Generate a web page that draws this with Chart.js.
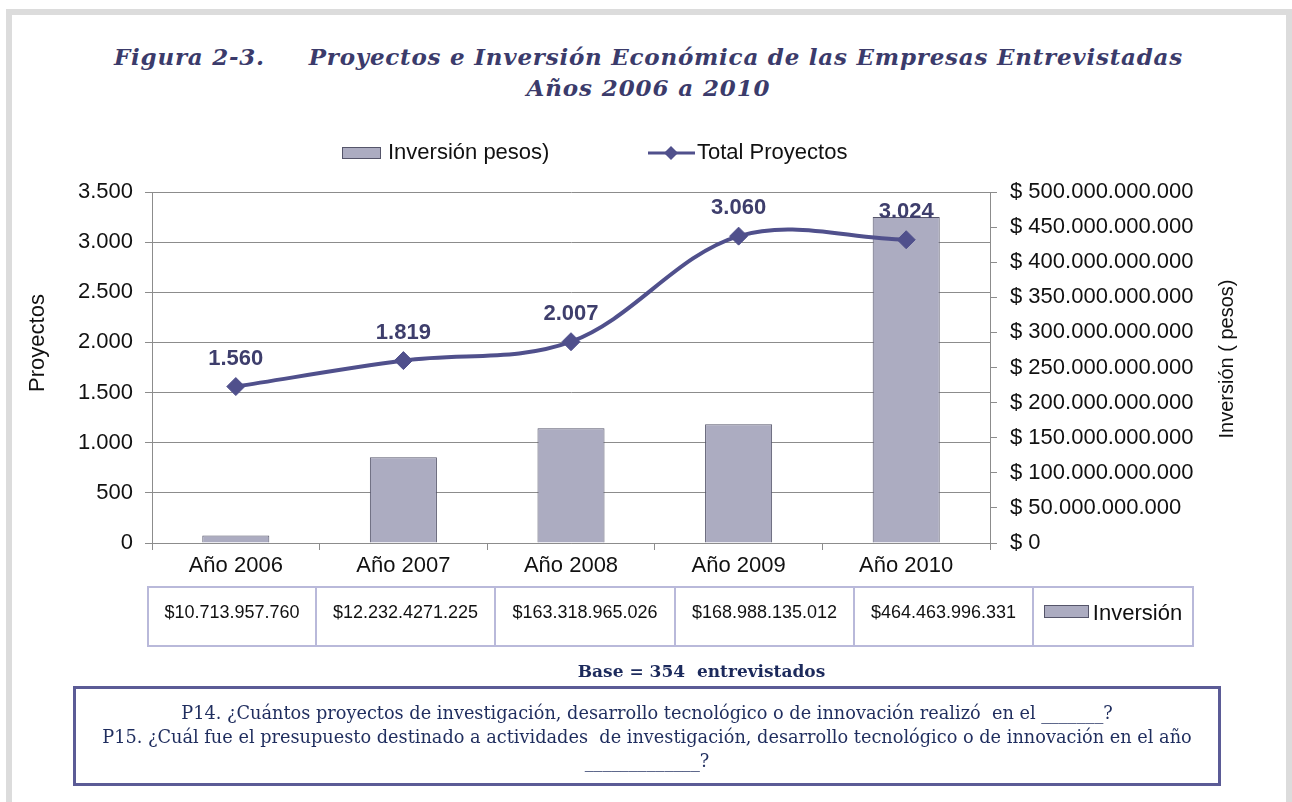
<!DOCTYPE html>
<html><head><meta charset="utf-8">
<script src="https://cdn.jsdelivr.net/npm/chart.js@4.4.1/dist/chart.umd.min.js"></script>
<style>
html,body{margin:0;padding:0;width:1292px;height:802px;overflow:hidden;background:#fff;}
#frame{position:absolute;left:6px;top:9px;width:1274px;height:900px;border:6px solid #dcdcdc;border-bottom:none;}
#wrap{position:absolute;left:0;top:0;width:1292px;height:802px;}
.title{position:absolute;left:0;width:1297px;text-align:center;font-family:"DejaVu Serif";font-weight:bold;font-style:italic;color:#3b3b6b;white-space:pre;font-size:23px;line-height:30px;}
.title span, .bl span{display:inline-block;}
.cell{position:absolute;top:586px;height:57px;border:2px solid #b9b9da;box-sizing:content-box;font-family:"Liberation Sans",Arial,sans-serif;font-size:18px;color:#111;text-align:center;line-height:22px;}
.cell span{position:absolute;left:0;right:0;top:13px;}
#base{position:absolute;left:0;width:1403px;top:659px;text-align:center;font-family:"DejaVu Serif";font-weight:bold;font-size:17px;color:#1c2a5c;line-height:24px;white-space:pre;}
#box{position:absolute;left:73px;top:686px;width:1142px;height:94px;border:3px solid #5b5b96;}
.bl{position:absolute;left:0;right:0;text-align:center;font-family:"DejaVu Serif";font-size:17.5px;color:#1f2d5e;white-space:pre;line-height:24px;}
</style></head>
<body>
<div id="frame"></div>
<div class="title" style="top:42px;"><span id="t1">Figura 2-3.     Proyectos e Inversión Económica de las Empresas Entrevistadas</span></div>
<div class="title" style="top:73px;"><span id="t2">Años 2006 a 2010</span></div>
<div id="wrap"><canvas id="c" width="1292" height="802"></canvas></div>
<div id="table"></div>
<div id="base">Base = 354  entrevistados</div>
<div id="box">
<div class="bl" style="top:12px;"><span id="b1">P14. ¿Cuántos proyectos de investigación, desarrollo tecnológico o de innovación realizó  en el _______?</span></div>
<div class="bl" style="top:36px;"><span id="b2">P15. ¿Cuál fue el presupuesto destinado a actividades  de investigación, desarrollo tecnológico o de innovación en el año</span></div>
<div class="bl" style="top:60px;"><span id="b3">_____________?</span></div>
</div>
<script>
const categories = ['Año 2006', 'Año 2007', 'Año 2008', 'Año 2009', 'Año 2010'];
const inversion = [10713957760, 122324271225, 163318965026, 168988135012, 464463996331];
const proyectos = [1560, 1819, 2007, 3060, 3024];
const tableLabels = ['$10.713.957.760', '$12.232.4271.225', '$163.318.965.026', '$168.988.135.012', '$464.463.996.331'];
const seriesNames = ['Inversión pesos)', 'Total Proyectos'];
const tableLegendLabel = 'Inversión';
const axisTitles = ['Proyectos', 'Inversión ( pesos)'];

const FONT = '"Liberation Sans", Arial, sans-serif';
const fmt = v => String(Math.round(v)).replace(/\B(?=(\d{3})+(?!\d))/g, '.');
const LINE = '#50508c', BARF = '#acacc1', BARB = '#55556a', GRID = '#8c8c8c';

// fit title letter-spacing to the reference widths
function fitSpacing(id, target) {
  const el = document.getElementById(id);
  const n = el.textContent.length;
  const w = el.getBoundingClientRect().width;
  el.style.letterSpacing = ((target - w) / n) + 'px';
}
fitSpacing('t1', 1069);
fitSpacing('t2', 244);
function fitSize(id, target) {
  const el = document.getElementById(id);
  const w = el.getBoundingClientRect().width;
  const fs = parseFloat(getComputedStyle(el).fontSize);
  el.style.fontSize = (fs * target / w) + 'px';
}
fitSize('b1', 932);
const fsB = document.getElementById('b1').style.fontSize;
document.getElementById('b2').style.fontSize = fsB;
document.getElementById('b3').style.fontSize = fsB;

// table
const edges = [147, 315, 494, 674, 853, 1032, 1192];
const tbl = document.getElementById('table');
for (let i = 0; i < 6; i++) {
  const d = document.createElement('div');
  d.className = 'cell';
  d.style.left = edges[i] + 'px';
  d.style.width = (edges[i + 1] - edges[i] - 2) + 'px';
  const s = document.createElement('span');
  if (i < 5) s.textContent = tableLabels[i];
  else {
    s.innerHTML = '<i style="display:inline-block;width:43px;height:11px;background:' + BARF + ';border:1px solid ' + BARB + ';vertical-align:middle;margin-right:4px;margin-top:-3px"></i><b style="font-weight:normal;font-size:22px;vertical-align:middle">' + tableLegendLabel + '</b>';
  }
  d.appendChild(s);
  tbl.appendChild(d);
}

const custom = {
  id: 'custom',
  afterDatasetsDraw(chart) {
    const ctx = chart.ctx;
    const meta = chart.getDatasetMeta(1);
    ctx.save();
    ctx.font = 'bold 22px ' + FONT;
    ctx.fillStyle = '#3e3e6c';
    ctx.textAlign = 'center';
    ctx.textBaseline = 'middle';
    meta.data.forEach((p, i) => ctx.fillText(fmt(proyectos[i]), p.x, p.y - 28));
    ctx.restore();
  },
  afterDraw(chart) {
    const ctx = chart.ctx;
    ctx.save();
    ctx.fillStyle = '#111';
    ctx.font = '22px ' + FONT;
    ctx.textBaseline = 'middle';
    // legend
    ctx.fillStyle = BARF; ctx.fillRect(342.5, 147.5, 38, 11);
    ctx.strokeStyle = BARB; ctx.lineWidth = 1; ctx.strokeRect(342.5, 147.5, 38, 11);
    ctx.fillStyle = '#111'; ctx.textAlign = 'left';
    ctx.fillText(seriesNames[0], 388, 153);
    ctx.strokeStyle = LINE; ctx.lineWidth = 3;
    ctx.beginPath(); ctx.moveTo(648, 153); ctx.lineTo(695, 153); ctx.stroke();
    ctx.fillStyle = LINE;
    ctx.beginPath(); ctx.moveTo(664, 153); ctx.lineTo(671, 146); ctx.lineTo(678, 153); ctx.lineTo(671, 160); ctx.closePath(); ctx.fill();
    ctx.fillStyle = '#111';
    ctx.fillText(seriesNames[1], 697, 153);
    // axis titles
    ctx.textAlign = 'center';
    ctx.save(); ctx.translate(38, 343); ctx.rotate(-Math.PI / 2); ctx.fillText(axisTitles[0], 0, 0); ctx.restore();
    ctx.font = '20px ' + FONT;
    ctx.save(); ctx.translate(1227, 359); ctx.rotate(-Math.PI / 2); ctx.fillText(axisTitles[1], 0, 0); ctx.restore();
    ctx.restore();
  }
};

new Chart(document.getElementById('c'), {
  data: {
    labels: categories,
    datasets: [
      { type: 'bar', label: seriesNames[0], data: inversion, yAxisID: 'y1', order: 1,
        backgroundColor: BARF, borderColor: BARB, borderWidth: 1,
        barPercentage: 0.4, categoryPercentage: 1 },
      { type: 'line', label: seriesNames[1], data: proyectos, yAxisID: 'y', order: 0,
        borderColor: LINE, borderWidth: 4, tension: 0.35,
        pointStyle: 'rectRot', pointRadius: 9, pointBackgroundColor: LINE, pointBorderColor: LINE, pointBorderWidth: 1 }
    ]
  },
  options: {
    responsive: false, animation: false,
    layout: { padding: { top: 192, bottom: 219, left: 0, right: 0 } },
    plugins: { legend: { display: false }, tooltip: { enabled: false } },
    scales: {
      x: {
        grid: { display: true, drawOnChartArea: false, offset: true, tickLength: 7, color: GRID },
        border: { color: GRID },
        ticks: { font: { family: FONT, size: 22 }, color: '#111', padding: 3 },
        afterFit(s) { s.height = 40; }
      },
      y: {
        position: 'left', min: 0, max: 3500,
        ticks: { stepSize: 500, callback: v => fmt(v), font: { family: FONT, size: 22 }, color: '#111', padding: 12 },
        grid: { color: GRID, tickLength: 7 },
        border: { color: GRID },
        afterFit(s) { s.width = 152; }
      },
      y1: {
        position: 'right', min: 0, max: 500000000000,
        ticks: { stepSize: 50000000000, callback: v => '$ ' + fmt(v), font: { family: FONT, size: 22 }, color: '#111', padding: 13 },
        grid: { drawOnChartArea: false, tickLength: 7, color: GRID },
        border: { color: GRID },
        afterFit(s) { s.width = 302; }
      }
    }
  },
  plugins: [custom]
});
</script>
</body></html>
